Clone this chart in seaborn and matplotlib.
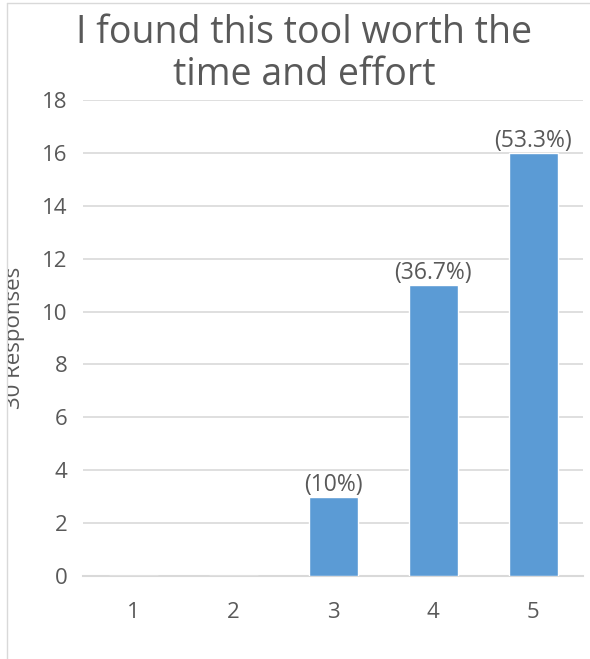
import matplotlib
matplotlib.use("Agg")
import matplotlib.pyplot as plt
from matplotlib.lines import Line2D
from matplotlib.transforms import Bbox, TransformedBbox
import seaborn as sns
import pandas as pd

ratings = ["1", "2", "3", "4", "5"]
counts = [0, 0, 3, 11, 16]
pct_labels = ["", "", "(10%)", "(36.7%)", "(53.3%)"]
y_ticks = [0, 2, 4, 6, 8, 10, 12, 14, 16, 18]

title = "I found this tool worth the\ntime and effort"
y_title = "30 Responses"

sns.set_theme(style="white")
plt.rcParams["font.family"] = ["Open Sans", "DejaVu Sans"]

text_col = "#595959"
grid_col = "#d9d9d9"
bar_col = "#5b9bd5"

df = pd.DataFrame({"rating": ratings, "count": counts})

fig = plt.figure(figsize=(5.9, 6.59), dpi=100)
ax = fig.add_axes([83 / 590, 1 - 576 / 659, 500 / 590, (576 - 100) / 659])

sns.barplot(data=df, x="rating", y="count", color=bar_col, width=0.49,
            saturation=1, ax=ax, zorder=3)

ax.set_ylim(0, 18)
ax.set_xlim(-0.5, 4.5)
ax.set_yticks(y_ticks)
ax.yaxis.grid(True, color=grid_col, linewidth=1.2, zorder=0)
ax.set_axisbelow(True)
for s in ["top", "right", "left"]:
    ax.spines[s].set_visible(False)
ax.spines["bottom"].set_color(grid_col)
ax.spines["bottom"].set_linewidth(1.5)
ax.tick_params(axis="y", length=0, pad=11, labelsize=16, labelcolor=text_col)
ax.tick_params(axis="x", length=0, pad=19, labelsize=16, labelcolor=text_col)
ax.set_xlabel("")
ax.set_ylabel("")

for i, (v, lab) in enumerate(zip(counts, pct_labels)):
    if lab:
        ax.annotate(lab, (i, v), xytext=(0, 0), textcoords="offset points",
                    ha="center", va="bottom", fontsize=16.5, color=text_col)

fig.text(304 / 590, 1 - 54 / 659, title, ha="center", va="center",
         fontsize=27, color=text_col, linespacing=1.12)

# axis title sits partly outside the chart frame and is clipped by it
ylab = fig.text(25 / 590, 1 - 338 / 659, y_title, ha="right", va="center",
                rotation=90, fontsize=16, color=text_col)
ylab.set_clip_box(TransformedBbox(Bbox([[8 / 590, 0], [1, 1]]), fig.transFigure))
ylab.set_clip_on(True)

# chart frame edges
fig.add_artist(Line2D([7 / 590, 7 / 590], [0, 1 - 3 / 659],
                      transform=fig.transFigure, color=grid_col, linewidth=1))
fig.add_artist(Line2D([7 / 590, 1], [1 - 3 / 659, 1 - 3 / 659],
                      transform=fig.transFigure, color=grid_col, linewidth=1))

fig.savefig("out.png", dpi=100)
